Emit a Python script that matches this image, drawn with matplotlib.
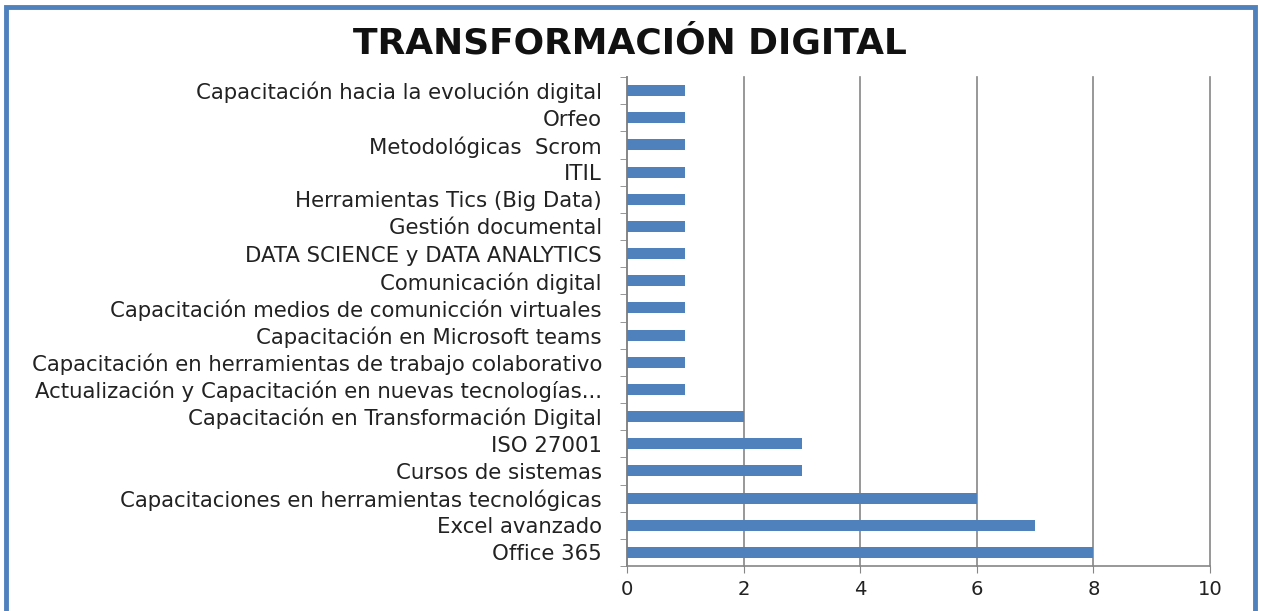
import matplotlib
matplotlib.use("Agg")
import matplotlib.pyplot as plt
from matplotlib.patches import Rectangle

categories = [
    "Capacitación hacia la evolución digital",
    "Orfeo",
    "Metodológicas  Scrom",
    "ITIL",
    "Herramientas Tics (Big Data)",
    "Gestión documental",
    "DATA SCIENCE y DATA ANALYTICS",
    "Comunicación digital",
    "Capacitación medios de comunicción virtuales",
    "Capacitación en Microsoft teams",
    "Capacitación en herramientas de trabajo colaborativo",
    "Actualización y Capacitación en nuevas tecnologías...",
    "Capacitación en Transformación Digital",
    "ISO 27001",
    "Cursos de sistemas",
    "Capacitaciones en herramientas tecnológicas",
    "Excel avanzado",
    "Office 365",
]
values = [1, 1, 1, 1, 1, 1, 1, 1, 1, 1, 1, 1, 2, 3, 3, 6, 7, 8]
xticks = [0, 2, 4, 6, 8, 10]
title = "TRANSFORMACIÓN DIGITAL"

FONT = "DejaVu Sans"
plt.rcParams["font.family"] = [FONT]

fig = plt.figure(figsize=(12.61, 6.11), dpi=100)
renderer = fig.canvas.get_renderer()

def fit_size(text, target_px, weight="normal"):
    t = fig.text(0, 0, text, fontsize=10, fontweight=weight)
    w = t.get_window_extent(renderer).width
    t.remove()
    return 10 * target_px / w

label_fs = fit_size(categories[0], 410)
title_fs = fit_size(title, 556, "bold")
xtick_fs = fit_size("10", 25)

ax = fig.add_axes([627/1261, 1-566/611, (1210-627)/1261, (566-77)/611])

n = len(categories)
ypos = list(range(n - 1, -1, -1))
ax.barh(ypos, values, height=0.4, color="#4F81BD", zorder=3)

ax.set_xlim(0, 10)
ax.set_ylim(-0.5, n - 0.5)
ax.set_xticks(xticks)
ax.set_xticklabels([str(t) for t in xticks], fontsize=xtick_fs, color="#222222")
ax.set_yticks(ypos)
ax.set_yticklabels(categories, fontsize=label_fs, color="#222222")
ax.tick_params(axis="y", length=0, pad=18)
ax.tick_params(axis="x", length=5, color="#868686", pad=5, direction="out")

ax.set_yticks([i - 0.5 for i in range(n + 1)], minor=True)
ax.tick_params(axis="y", which="minor", length=5, color="#868686", direction="out")

ax.grid(axis="x", color="#868686", linewidth=1.2, zorder=0)
for gl in ax.get_xgridlines():
    gl.set_clip_on(False)
for s in ["top", "right"]:
    ax.spines[s].set_visible(False)
for s in ["left", "bottom"]:
    ax.spines[s].set_color("#868686")
    ax.spines[s].set_linewidth(1.2)

fig.text(630/1261, 1-43/611, title, ha="center", va="center",
         fontsize=title_fs, fontweight="bold", color="#111111")

fig.patches.append(Rectangle((6/1261, -0.05), (1249/1261), 1.05 - 7/611,
                             transform=fig.transFigure, fill=False,
                             edgecolor="#4F81BD", linewidth=3.5))

fig.savefig("out.png", dpi=100)
